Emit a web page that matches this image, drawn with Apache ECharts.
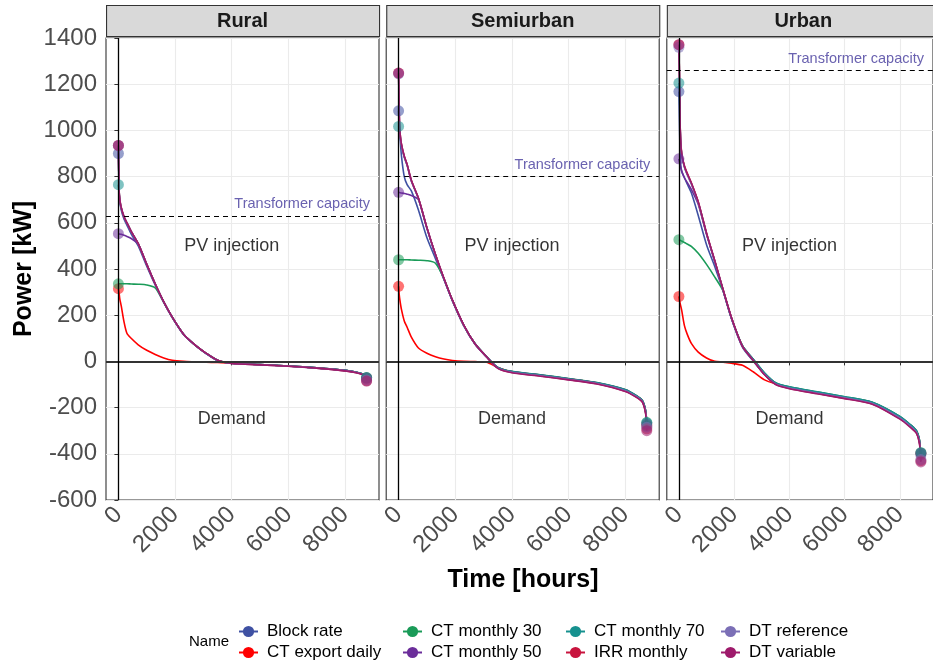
<!DOCTYPE html>
<html>
<head>
<meta charset="utf-8">
<script src="https://cdn.jsdelivr.net/npm/echarts@6/dist/echarts.min.js"></script>
<style>
html,body{margin:0;padding:0;background:#fff;}
#chart{width:933px;height:664px;}
</style>
</head>
<body>
<div id="chart"></div>
<script>
// ---------------- DATA ----------------
const panels = ['Rural', 'Semiurban', 'Urban'];
const seriesNames = ['Block rate', 'CT export daily', 'CT monthly 30', 'CT monthly 50',
                     'CT monthly 70', 'IRR monthly', 'DT reference', 'DT variable'];
const xTicks = [0, 2000, 4000, 6000, 8000];
const yTicks = [-600, -400, -200, 0, 200, 400, 600, 800, 1000, 1200, 1400];
const transformerCapacity = [630, 800, 1260];
const annotationTexts = ['PV injection', 'Demand'];
const annotationHours = [4000, 4000];
const annotationPower = [500, -250];

// hours of the duration curve
const hours = [0, 25, 50, 100, 200, 300, 450, 700, 1000, 1300, 1600, 1900, 2300, 2700,
               3100, 3500, 4000, 5000, 6000, 7000, 8000, 8400, 8600, 8700, 8740, 8760];

// Rural
const ruralBlockRate   = [900, 730, 690, 655, 615, 590, 552, 500, 412, 330, 255, 190, 116, 70, 33, 3, -8, -14, -20, -28, -39, -47, -54, -60, -66, -72];
const ruralExportDaily = [315, 295, 270, 240, 170, 122, 100, 72, 48, 30, 15, 5, 0, -2, -4, -5, -8, -14, -20, -28, -39, -47, -54, -61, -66, -72];
const ruralMonthly30   = [336, 336, 336, 336, 336, 336, 335, 334, 331, 318, 256, 191, 118, 72, 35, 5, -8, -14, -20, -28, -39, -47, -53, -60, -65, -70];
const ruralMonthly50   = [553, 552, 551, 550, 546, 541, 532, 508, 420, 335, 258, 192, 118, 72, 35, 5, -8, -14, -20, -28, -39, -47, -54, -60, -66, -72];
const ruralMonthly70   = [765, 735, 698, 664, 625, 600, 563, 510, 420, 335, 258, 192, 118, 72, 35, 5, -8, -14, -20, -28, -39, -47, -53, -60, -65, -70];
const ruralIRR         = [935, 742, 702, 666, 626, 600, 563, 510, 421, 336, 258, 192, 118, 72, 35, 5, -9, -15, -21, -29, -41, -49, -56, -63, -70, -84];
const ruralDTReference = [935, 738, 698, 663, 624, 599, 562, 509, 420, 335, 257, 191, 117, 71, 34, 4, -9, -15, -21, -29, -40, -48, -55, -62, -68, -80];
const ruralDTVariable  = [935, 740, 700, 665, 625, 600, 563, 510, 420, 335, 258, 192, 118, 72, 35, 5, -9, -15, -21, -29, -41, -49, -56, -63, -70, -85];

// Semiurban
const semiBlockRate   = [1085, 1010, 970, 890, 800, 765, 738, 655, 535, 445, 355, 262, 155, 74, 20, -27, -45, -60, -76, -94, -125, -151, -171, -205, -240, -280];
const semiExportDaily = [325, 285, 262, 225, 175, 148, 105, 58, 35, 20, 10, 4, 0, -1, -3, -26, -45, -60, -76, -94, -124, -150, -170, -204, -238, -275];
const semiMonthly30   = [440, 440, 440, 440, 440, 440, 439, 438, 436, 425, 358, 264, 156, 76, 21, -26, -43, -58, -74, -92, -122, -148, -168, -202, -235, -265];
const semiMonthly50   = [732, 731, 730, 729, 727, 724, 718, 700, 577, 462, 358, 264, 156, 76, 21, -26, -44, -59, -75, -93, -123, -149, -169, -202, -235, -270];
const semiMonthly70   = [1017, 1005, 980, 935, 885, 850, 782, 705, 577, 462, 358, 264, 156, 76, 21, -26, -44, -59, -75, -93, -123, -149, -169, -202, -235, -265];
const semiIRR         = [1248, 1062, 992, 942, 889, 853, 784, 707, 579, 464, 360, 265, 157, 75, 20, -29, -48, -63, -79, -97, -129, -155, -175, -211, -247, -292];
const semiDTReference = [1245, 1055, 985, 935, 884, 849, 780, 704, 576, 461, 357, 263, 155, 74, 19, -29, -47, -62, -78, -96, -127, -153, -173, -208, -243, -285];
const semiDTVariable  = [1248, 1060, 990, 940, 888, 852, 783, 706, 578, 463, 359, 265, 157, 75, 20, -30, -49, -64, -80, -98, -130, -156, -176, -213, -250, -300];

// Urban
const urbanBlockRate   = [1168, 1000, 880, 822, 795, 768, 730, 632, 505, 410, 305, 186, 62, 0, -55, -95, -113, -135, -156, -180, -242, -280, -304, -340, -385, -405];
const urbanExportDaily = [281, 262, 248, 222, 155, 118, 78, 40, 15, 0, -3, -8, -17, -46, -80, -97, -112, -134, -155, -178, -240, -278, -302, -338, -382, -398];
const urbanMonthly30   = [527, 526, 524, 521, 515, 508, 498, 468, 420, 365, 305, 188, 68, 8, -50, -92, -110, -132, -153, -177, -238, -276, -300, -335, -380, -395];
const urbanMonthly50   = [877, 862, 848, 825, 795, 775, 745, 680, 550, 432, 308, 188, 67, 7, -52, -94, -112, -134, -155, -179, -240, -278, -302, -338, -383, -398];
const urbanMonthly70   = [1205, 1150, 995, 898, 843, 811, 770, 688, 553, 433, 309, 189, 68, 8, -50, -92, -110, -132, -153, -177, -238, -276, -300, -335, -380, -395];
const urbanIRR         = [1371, 1205, 1005, 903, 847, 815, 773, 691, 556, 436, 311, 191, 66, 4, -57, -99, -117, -139, -160, -184, -248, -286, -310, -347, -392, -430];
const urbanDTReference = [1360, 1190, 995, 895, 840, 808, 768, 686, 552, 432, 308, 188, 64, 3, -56, -98, -115, -137, -158, -182, -245, -283, -307, -343, -388, -425];
const urbanDTVariable  = [1371, 1200, 1000, 900, 845, 813, 772, 690, 555, 435, 310, 190, 65, 3, -58, -100, -118, -140, -161, -185, -250, -288, -312, -350, -395, -435];

// ---------------- STYLE ----------------
const colors = ['#3F51A3', '#FF0000', '#1A9B58', '#6B2D9A', '#16918F', '#C8143E', '#7B6FB6', '#9E1A6B'];
const FONT = '"Liberation Sans", Arial, Helvetica, sans-serif';
const panelLeft = [106, 386.2, 666.8];
const panelWidth = 273;
const panelTop = 38;
const panelHeight = 462;

const panelSeries = [
  [ruralBlockRate, ruralExportDaily, ruralMonthly30, ruralMonthly50, ruralMonthly70, ruralIRR, ruralDTReference, ruralDTVariable],
  [semiBlockRate, semiExportDaily, semiMonthly30, semiMonthly50, semiMonthly70, semiIRR, semiDTReference, semiDTVariable],
  [urbanBlockRate, urbanExportDaily, urbanMonthly30, urbanMonthly50, urbanMonthly70, urbanIRR, urbanDTReference, urbanDTVariable]
];

const plain = (v) => String(v);

const grids = [], xAxes = [], yAxes = [], series = [];
panels.forEach((p, i) => {
  grids.push({left: panelLeft[i], top: panelTop, width: panelWidth, height: panelHeight,
              show: true, borderColor: '#333333', borderWidth: 1.1, backgroundColor: '#fff', z: 0});
  xAxes.push({
    type: 'value', gridIndex: i, min: -438, max: 9198,
    axisLine: {show: false},
    axisTick: {show: true, length: 4, lineStyle: {color: '#333333', width: 1}, customValues: xTicks},
    axisLabel: {show: true, customValues: xTicks, rotate: 45, margin: 11, fontSize: 24,
                color: '#4D4D4D', fontFamily: FONT, formatter: plain},
    splitLine: {show: true, lineStyle: {color: '#EBEBEB', width: 1.1}}
  });
  yAxes.push({
    type: 'value', gridIndex: i, min: -600, max: 1400, interval: 200,
    axisLine: {show: false},
    axisTick: {show: i === 0, length: 4, lineStyle: {color: '#333333', width: 1}},
    axisLabel: {show: i === 0, margin: 9, fontSize: 24, color: '#4D4D4D', fontFamily: FONT, formatter: plain},
    splitLine: {show: true, lineStyle: {color: '#EBEBEB', width: 1.1}}
  });

  // reference lines
  series.push({
    type: 'line', xAxisIndex: i, yAxisIndex: i, data: [], silent: true,
    markLine: {
      symbol: 'none', silent: true, animation: false,
      data: [
        {yAxis: 0, lineStyle: {color: '#333333', width: 1.8, type: 'solid'}, label: {show: false}},
        {xAxis: 0, lineStyle: {color: '#000000', width: 1.3, type: 'solid'}, label: {show: false}},
        {yAxis: transformerCapacity[i], lineStyle: {color: '#000000', width: 1.2, type: [5, 4]},
         label: {show: true, position: 'insideEndTop', formatter: 'Transformer capacity',
                 color: '#6A62B0', fontSize: 14.5, fontFamily: FONT, distance: [9, 4]}}
      ]
    }
  });

  // duration curves
  panelSeries[i].forEach((vals, k) => {
    series.push({
      name: seriesNames[k], type: 'line', xAxisIndex: i, yAxisIndex: i,
      data: hours.map((h, j) => [h, vals[j]]),
      symbol: 'circle', symbolSize: 9, showSymbol: false,
      smooth: 0.25,
      lineStyle: {color: colors[k], width: 1.6},
      itemStyle: {color: colors[k]},
      animation: false, silent: true, z: 3
    });
  });
  // end points
  panelSeries[i].forEach((vals, k) => {
    series.push({
      name: seriesNames[k], type: 'scatter', xAxisIndex: i, yAxisIndex: i,
      data: [[hours[0], vals[0]], [hours[hours.length - 1], vals[vals.length - 1]]],
      symbol: 'circle', symbolSize: 11,
      itemStyle: {color: colors[k], opacity: 0.55},
      animation: false, silent: true, z: 4
    });
  });
  // text annotations
  series.push({
    type: 'scatter', xAxisIndex: i, yAxisIndex: i, silent: true, animation: false,
    symbolSize: 1, itemStyle: {color: 'rgba(0,0,0,0)'},
    data: annotationTexts.map((t, j) => ({value: [annotationHours[j], annotationPower[j]], name: t})),
    label: {show: true, position: 'inside', formatter: (d) => d.name,
            color: '#000', fontSize: 18, fontFamily: FONT},
    z: 5
  });
});

// facet strips & axis titles
const graphics = [];
panels.forEach((p, i) => {
  graphics.push({type: 'rect', left: panelLeft[i], top: 5,
                 shape: {x: 0, y: 0, width: panelWidth, height: 31},
                 style: {fill: '#D9D9D9', stroke: '#333333', lineWidth: 1.1}, z: 10});
  graphics.push({type: 'text', x: panelLeft[i] + panelWidth / 2, y: 21,
                 style: {text: p, fill: '#1A1A1A', font: 'bold 20px ' + FONT, align: 'center', verticalAlign: 'middle'}, z: 11});
});
graphics.push({type: 'text', x: 24, y: 269, rotation: Math.PI / 2,
               style: {text: 'Power [kW]', fill: '#000', font: 'bold 25px ' + FONT, align: 'center', verticalAlign: 'middle'}, z: 11});
graphics.push({type: 'text', x: 523, y: 580,
               style: {text: 'Time [hours]', fill: '#000', font: 'bold 25px ' + FONT, align: 'center', verticalAlign: 'middle'}, z: 11});
graphics.push({type: 'text', x: 189, y: 642,
               style: {text: 'Name', fill: '#000', font: '15px ' + FONT, align: 'left', verticalAlign: 'middle'}, z: 11});

// legends: 4 columns x 2 rows (column-major like ggplot)
const legendLefts = [238, 402, 565, 720];
const legends = legendLefts.map((l, c) => ({
  orient: 'vertical', left: l, top: 623, padding: 0, itemGap: 4,
  itemWidth: 19, itemHeight: 14,
  data: [seriesNames[c * 2], seriesNames[c * 2 + 1]],
  textStyle: {fontSize: 17, color: '#000', fontFamily: FONT, padding: [0, 0, 0, 4]},
  selectedMode: false
}));

const chart = echarts.init(document.getElementById('chart'), null, {renderer: 'canvas'});
chart.setOption({
  backgroundColor: '#fff',
  animation: false,
  grid: grids, xAxis: xAxes, yAxis: yAxes,
  legend: legends,
  series: series,
  graphic: graphics
});
</script>
</body>
</html>
